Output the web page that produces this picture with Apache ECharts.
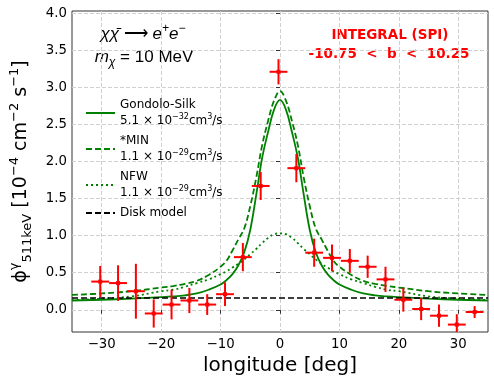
<!DOCTYPE html>
<html>
<head>
<meta charset="utf-8">
<script src="https://cdn.jsdelivr.net/npm/echarts@6/dist/echarts.min.js"></script>
<style>
  html, body { margin: 0; padding: 0; background: #fff; }
  #chart { width: 494px; height: 384px; }
</style>
</head>
<body>
<div id="chart"></div>
<script>
// model curves, sampled along longitude [deg]
const lonModel = [-35, -30, -25, -20, -18, -16, -14, -12, -10, -9, -8, -7, -6, -5, -4, -3, -2, -1, 0,
  1, 2, 3, 4, 5, 6, 7, 8, 9, 10, 12, 14, 16, 18, 20, 25, 30, 35];
const gsFlux = [0.125, 0.135, 0.15, 0.17, 0.18, 0.195, 0.22, 0.27, 0.34, 0.40, 0.48, 0.60, 0.78, 1.08, 1.55, 2.05, 2.40, 2.70, 2.83,
  2.70, 2.40, 2.05, 1.55, 1.08, 0.78, 0.60, 0.48, 0.40, 0.34, 0.27, 0.22, 0.195, 0.18, 0.17, 0.15, 0.135, 0.125];
const minFlux = [0.20, 0.22, 0.25, 0.30, 0.32, 0.35, 0.39, 0.47, 0.58, 0.66, 0.80, 0.95, 1.10, 1.40, 1.78, 2.22, 2.55, 2.82, 2.95,
  2.82, 2.55, 2.22, 1.78, 1.40, 1.10, 0.95, 0.80, 0.66, 0.58, 0.47, 0.39, 0.35, 0.32, 0.30, 0.25, 0.22, 0.20];
const nfwFlux = [0.13, 0.15, 0.18, 0.25, 0.27, 0.31, 0.36, 0.41, 0.48, 0.52, 0.57, 0.62, 0.68, 0.75, 0.82, 0.90, 0.97, 1.02, 1.03,
  1.02, 0.97, 0.90, 0.82, 0.75, 0.68, 0.62, 0.57, 0.52, 0.48, 0.41, 0.36, 0.31, 0.27, 0.25, 0.18, 0.15, 0.13];
const lonDisk = [-35, 35];
const diskFlux = [0.158, 0.158];

// INTEGRAL (SPI) measurements
const lonData = [-30.25, -27.25, -24.25, -21.25, -18.25, -15.25, -12.25, -9.25, -6.25, -3.25, -0.25,
  2.75, 5.75, 8.75, 11.75, 14.75, 17.75, 20.75, 23.75, 26.75, 29.75, 32.75];
const fluxData = [0.38, 0.36, 0.25, -0.05, 0.07, 0.125, 0.07, 0.21, 0.71, 1.67, 3.21,
  1.91, 0.77, 0.70, 0.66, 0.58, 0.41, 0.135, 0.01, -0.08, -0.20, -0.03];
const fluxErr = [0.21, 0.24, 0.37, 0.19, 0.20, 0.17, 0.14, 0.16, 0.19, 0.19, 0.17,
  0.19, 0.19, 0.18, 0.16, 0.15, 0.17, 0.16, 0.15, 0.15, 0.14, 0.08];
const lonErr = 1.5;

const xTicks = [-30, -20, -10, 0, 10, 20, 30];
const yTicks = [0, 0.5, 1, 1.5, 2, 2.5, 3, 3.5, 4];

const pairs = (xs, ys) => xs.map((x, i) => [x, ys[i]]);
const minus = (s) => String(s).replace('-', '\u2212');

const supStyle = { fontSize: 8, verticalAlign: 'top', lineHeight: 16 };

const myChart = echarts.init(document.getElementById('chart'));

const legendText = {
  'Gondolo-Silk': 'Gondolo-Silk\n5.1 × 10{sup|−32}cm{sup|3}/s',
  '*MIN': '*MIN\n1.1 × 10{sup|−29}cm{sup|3}/s',
  NFW: 'NFW\n1.1 × 10{sup|−29}cm{sup|3}/s',
  'Disk model': 'Disk model',
};

function renderErrorBar(params, api) {
  const x = api.value(0);
  const y = api.value(1);
  const ey = api.value(2);
  const c = api.coord([x, y]);
  const top = api.coord([x, y + ey]);
  const bot = api.coord([x, y - ey]);
  const left = api.coord([x - lonErr, y]);
  const right = api.coord([x + lonErr, y]);
  const style = { stroke: '#ff0000', lineWidth: 2 };
  return {
    type: 'group',
    children: [
      { type: 'line', shape: { x1: top[0], y1: top[1], x2: bot[0], y2: bot[1] }, style },
      { type: 'line', shape: { x1: left[0], y1: left[1], x2: right[0], y2: right[1] }, style },
      { type: 'rect', shape: { x: c[0] - 2, y: c[1] - 2, width: 4, height: 4 }, style: { fill: '#ff0000' } },
    ],
  };
}

const lineSeries = (name, ys, color, type) => ({
  name,
  type: 'line',
  data: pairs(lonModel, ys),
  smooth: 0.4,
  showSymbol: false,
  symbol: 'none',
  color,
  lineStyle: { width: 1.8, color, type },
});

const option = {
  animation: false,
  textStyle: { fontFamily: 'DejaVu Sans' },
  grid: {
    left: 67,
    right: 6,
    top: 11,
    bottom: 52,
    show: true,
    borderColor: '#333',
    borderWidth: 1,
  },
  legend: {
    orient: 'vertical',
    left: 80,
    top: 92,
    itemWidth: 29,
    itemHeight: 10,
    itemGap: 4,
    itemStyle: { opacity: 0 },
    data: ['Gondolo-Silk', '*MIN', 'NFW', 'Disk model'],
    formatter: (name) => legendText[name],
    textStyle: {
      fontSize: 12,
      color: '#000',
      lineHeight: 16,
      rich: { sup: supStyle },
    },
  },
  graphic: [
    {
      type: 'text',
      x: 143,
      y: 34,
      style: {
        text: '{i|χχ̄}{n| ⟶ }{i|e}{s|+}{i|e}{s|−}',
        fill: '#000',
        align: 'center',
        verticalAlign: 'middle',
        rich: {
          i: { fontSize: 17, fontStyle: 'italic', lineHeight: 22 },
          n: { fontSize: 17, lineHeight: 22 },
          s: { fontSize: 12, fontStyle: 'italic', verticalAlign: 'top', lineHeight: 22 },
        },
      },
    },
    {
      type: 'text',
      x: 144,
      y: 57,
      style: {
        text: '{i|m}{b|χ}{n| = 10 MeV}',
        fill: '#000',
        align: 'center',
        verticalAlign: 'middle',
        rich: {
          i: { fontSize: 17, fontStyle: 'italic', lineHeight: 22 },
          n: { fontSize: 17, lineHeight: 22 },
          b: { fontSize: 12, fontStyle: 'italic', verticalAlign: 'bottom', lineHeight: 24 },
        },
      },
    },
    {
      type: 'text',
      x: 390,
      y: 35,
      style: {
        text: 'INTEGRAL (SPI)',
        fill: '#ff0000',
        font: 'bold 13.5px "DejaVu Sans"',
        align: 'center',
        verticalAlign: 'middle',
      },
    },
    {
      type: 'text',
      x: 389,
      y: 54,
      style: {
        text: '-10.75  <  b  <  10.25',
        fill: '#ff0000',
        font: 'bold 13.5px "DejaVu Sans"',
        align: 'center',
        verticalAlign: 'middle',
      },
    },
  ],
  xAxis: {
    type: 'value',
    min: -35,
    max: 35,
    name: 'longitude [deg]',
    nameLocation: 'middle',
    nameGap: 24,
    nameTextStyle: { fontSize: 20, color: '#000' },
    axisLine: { show: false },
    axisTick: { show: true, length: 4, customValues: xTicks, lineStyle: { color: '#333' } },
    axisLabel: { customValues: xTicks, fontSize: 13.3, color: '#000', margin: 6, formatter: minus },
    splitLine: { show: true, lineStyle: { color: '#d0d0d0', type: [4, 2] } },
  },
  yAxis: {
    type: 'value',
    min: -0.3,
    max: 4.03,
    name: '{a|ϕ}{sp|γ}{sb|511keV}{a| [10}{sp|−4}{a| cm}{sp|−2}{a| s}{sp|−1}{a|]}',
    nameLocation: 'middle',
    nameGap: 38,
    nameTextStyle: {
      color: '#000',
      rich: {
        a: { fontSize: 19, lineHeight: 26 },
        sp: { fontSize: 13, verticalAlign: 'top', lineHeight: 26 },
        sb: { fontSize: 13, verticalAlign: 'bottom', lineHeight: 26 },
      },
    },
    axisLine: { show: false },
    axisTick: { show: true, length: 4, customValues: yTicks, lineStyle: { color: '#333' } },
    axisLabel: { customValues: yTicks, fontSize: 13.3, color: '#000', margin: 5, formatter: (v) => v.toFixed(1) },
    splitLine: { show: true, lineStyle: { color: '#d0d0d0', type: [4, 2] } },
  },
  series: [
    lineSeries('Gondolo-Silk', gsFlux, '#008000', 'solid'),
    lineSeries('*MIN', minFlux, '#008000', [6, 3]),
    lineSeries('NFW', nfwFlux, '#008000', [2, 3]),
    {
      name: 'Disk model',
      type: 'line',
      data: pairs(lonDisk, diskFlux),
      showSymbol: false,
      symbol: 'none',
      color: '#000',
      lineStyle: { width: 1.6, color: '#000', type: [6, 3] },
    },
    {
      name: 'INTEGRAL',
      type: 'custom',
      clip: true,
      renderItem: renderErrorBar,
      data: lonData.map((l, i) => [l, fluxData[i], fluxErr[i]]),
      z: 5,
    },
  ],
};

myChart.setOption(option);
</script>
</body>
</html>
